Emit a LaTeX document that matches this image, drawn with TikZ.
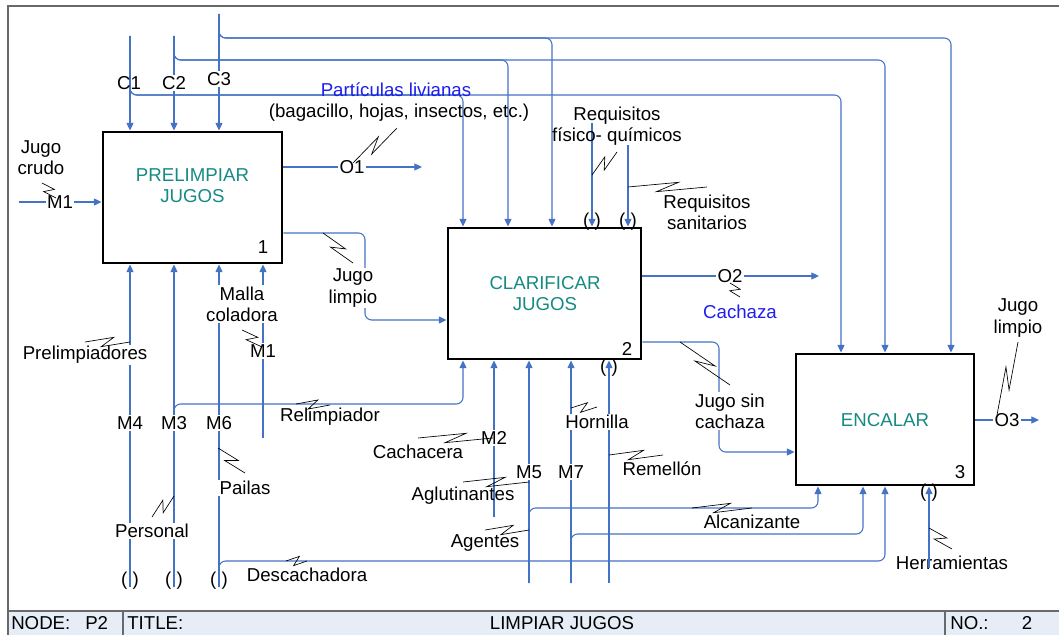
\documentclass[tikz,border=0pt]{standalone}
\usepackage{fontspec}
\setmainfont{Liberation Sans}
\usetikzlibrary{arrows.meta,calc}

\definecolor{flow}{RGB}{68,114,196}
\definecolor{acttext}{RGB}{22,138,132}
\definecolor{notetext}{RGB}{30,30,240}
\definecolor{barfill}{RGB}{230,237,247}
\definecolor{framecol}{RGB}{105,105,105}

\tikzset{
  conn/.style={draw=flow, line width=0.8pt, rounded corners=5pt},
  arr/.style={conn, -{Triangle[length=5.8pt,width=5.3pt]}},
  squig/.style={draw=black, line width=0.5pt},
  actbox/.style={draw=black, line width=2.2pt, fill=white, inner sep=0pt},
  acttitle/.style={text=acttext, align=center, inner sep=0pt},
  lbl/.style={fill=white, inner sep=1pt, align=center},
  lbln/.style={inner sep=1pt, align=center},
  tunnel/.style={inner sep=0pt},
  bartext/.style={inner sep=0pt, anchor=west}
}

% squiggle: short "N" shaped leader between a label and an arrow
\newcommand{\squig}[3]{%
  \coordinate (#1a) at (#2);
  \coordinate (#1b) at (#3);
  \draw[squig] (#1a) -- ($(#1a)!0.64!(#1b)!3.5pt!90:(#1b)$)
     -- ($(#1a)!0.36!(#1b)!3.5pt!-90:(#1b)$) -- (#1b);}

\begin{document}
\begin{tikzpicture}[x=0.75pt, y=-0.75pt, font=\fontsize{14}{16}\selectfont]
\useasboundingbox (0,0) rectangle (1059,635);
\fill[white] (0,0) rectangle (1059,635);

% sheet frame and title bar
\fill[barfill] (8,611) rectangle (1059,635);
\draw[framecol, line width=1pt] (8,635) -- (8,6) -- (1059,6);
\draw[framecol, line width=0.8pt] (8,611) -- (1059,611);
\draw[framecol, line width=0.8pt] (123,611) -- (123,635);
\draw[framecol, line width=0.8pt] (945,611) -- (945,635);
\node[bartext] (nodekey) at (11,623) {NODE:};
\node[bartext] (nodeval) at (85,623) {P2};
\node[bartext] (titlekey) at (127,623) {TITLE:};
\node[inner sep=0pt] (titleval) at (562,623) {LIMPIAR JUGOS};
\node[bartext] (nokey) at (950,623) {NO.:};
\node[inner sep=0pt] (noval) at (1027,623) {2};

% activity boxes
\node[actbox, minimum width=134.25pt, minimum height=98.25pt] (b1) at (192.5,197.5) {};
\node[actbox, minimum width=144.75pt, minimum height=98.25pt] (b2) at (544.5,293.5) {};
\node[actbox, minimum width=133.5pt, minimum height=98.25pt] (b3) at (885,419.5) {};

% controls
\coordinate (c1s) at (130,36);
\coordinate (c2s) at (174,36);
\coordinate (c3s) at (219,14);
\coordinate (k1) at (463,95);  \coordinate (k1b) at (841,95);
\coordinate (k2) at (508,60);  \coordinate (k2b) at (885,60);
\coordinate (k3) at (552,38);  \coordinate (k3b) at (951,38);
\draw[arr] (c1s) -- (c1s |- b1.north);
\draw[arr] (c2s) -- (c2s |- b1.north);
\draw[arr] (c3s) -- (c3s |- b1.north);
\draw[arr] (c1s) |- (k1) -- (k1 |- b2.north);
\draw[arr] (c1s) |- (k1b) -- (k1b |- b3.north);
\draw[arr] (c2s) |- (k2) -- (k2 |- b2.north);
\draw[arr] (c2s) |- (k2b) -- (k2b |- b3.north);
\draw[arr] (c3s) |- (k3) -- (k3 |- b2.north);
\draw[arr] (c3s) |- (k3b) -- (k3b |- b3.north);
\coordinate (rq1) at (592,123);
\coordinate (rq2) at (628,145);
\draw[arr] (rq1) -- (rq1 |- b2.north);
\draw[arr] (rq2) -- (rq2 |- b2.north);

% inputs and outputs
\coordinate (m1in) at (19,202);
\draw[arr] (m1in) -- (m1in -| b1.west);
\coordinate (o1e) at (422,167);
\draw[arr] (b1.east |- o1e) -- (o1e);
\coordinate (jl) at (365,233);
\coordinate (jlb) at (365,320);
\draw[arr] (b1.east |- jl) -- (jl) -- (jlb) -- (jlb -| b2.west);
\coordinate (o2e) at (819,276);
\draw[arr] (b2.east |- o2e) -- (o2e);
\coordinate (js) at (719,342);
\coordinate (jsb) at (719,452);
\draw[arr] (b2.east |- js) -- (js) -- (jsb) -- (jsb -| b3.west);
\coordinate (o3e) at (1039,420);
\draw[arr] (b3.east |- o3e) -- (o3e);

% mechanisms
\coordinate (m4s) at (130,587);
\coordinate (m3s) at (174,587);
\coordinate (m6s) at (219,587);
\coordinate (m1s) at (263,438);
\draw[arr] (m4s) -- (m4s |- b1.south);
\draw[arr] (m3s) -- (m3s |- b1.south);
\draw[arr] (m6s) -- (m6s |- b1.south);
\draw[arr] (m1s) -- (m1s |- b1.south);
\coordinate (rl) at (463,404);
\draw[arr] (m3s) |- (rl) -- (rl |- b2.south);
\coordinate (dc) at (885,561);
\draw[arr] (m6s) |- (dc) -- (dc |- b3.south);
\coordinate (m2s) at (494,517);
\coordinate (m5s) at (529,583);
\coordinate (m7s) at (571,583);
\coordinate (m8s) at (609,583);
\draw[arr] (m2s) -- (m2s |- b2.south);
\draw[arr] (m5s) -- (m5s |- b2.south);
\draw[arr] (m7s) -- (m7s |- b2.south);
\draw[arr] (m8s) -- (m8s |- b2.south);
\coordinate (al) at (818,508);
\draw[arr] (m5s) |- (al) -- (al |- b3.south);
\coordinate (hb) at (863,534);
\draw[arr] (m7s) |- (hb) -- (hb |- b3.south);

% activity titles and numbers
\node[acttitle] (t1) at (192.5,186) {PRELIMPIAR\\JUGOS};
\node[acttitle] (t2) at (545,293.5) {CLARIFICAR\\JUGOS};
\node[acttitle] (t3) at (885,420) {ENCALAR};
\node[inner sep=0pt] (n1) at (263,247) {1};
\node[inner sep=0pt] (n2) at (627,349) {2};
\node[inner sep=0pt] (n3) at (960,472) {3};

% labels
\node[lbln] (ljc) at (41,158) {Jugo\\crudo};
\node[lbl] (lm1) at (60,202) {M1};
\node[lbln] (lc1) at (129,83) {C1};
\node[lbl] (lc2) at (174,83) {C2};
\node[lbl] (lc3) at (219,79) {C3};
\node[lbln, text=notetext] (lpl) at (396,90) {Partículas livianas};
\node[lbln] (lbg) at (399,113) {(bagacillo, hojas, insectos, etc.)};
\node[lbl] (lo1) at (352,167) {O1};
\node[lbl] (ljl1) at (353,288) {Jugo\\limpio};
\node[lbl] (lmc) at (242,304) {Malla\\coladora};
\node[lbl] (lm1b) at (263,351) {M1};
\node[lbl] (lpre) at (85,355) {Prelimpiadores};
\node[lbl] (lm4) at (130,423) {M4};
\node[lbl] (lm3) at (174,423) {M3};
\node[lbl] (lm6) at (219,423) {M6};
\node[lbln] (lrel) at (330,417) {Relimpiador};
\node[lbl] (lpai) at (245,488) {Pailas};
\node[lbl] (lper) at (152,531) {Personal};
\node[tunnel] (tu1) at (130,581) {( )};
\node[tunnel] (tu2) at (174,581) {( )};
\node[tunnel] (tu3) at (219,581) {( )};
\node[lbln] (ldes) at (307,575) {Descachadora};
\node[lbln] (lrfq) at (617,126) {Requisitos\\físico- químicos};
\node[lbln] (lrsa) at (707,212) {Requisitos\\sanitarios};
\node[tunnel] (tu4) at (592,222) {( )};
\node[tunnel] (tu5) at (628,222) {( )};
\node[lbl] (lo2) at (730,276) {O2};
\node[lbln, text=notetext] (lcch) at (740,312) {Cachaza};
\node[tunnel] (tu6) at (609,368) {( )};
\node[lbl] (ljsc) at (730,411) {Jugo sin\\cachaza};
\node[lbl] (lm2) at (494,438) {M2};
\node[lbln] (lcac) at (418,452) {Cachacera};
\node[lbl] (lm5) at (529,472) {M5};
\node[lbl] (lm7) at (571,472) {M7};
\node[lbln] (lagl) at (463,496) {Aglutinantes};
\node[lbln] (lage) at (485,543) {Agentes};
\node[lbl] (lhor) at (597,422) {Hornilla};
\node[lbln] (lrem) at (662,469) {Remellón};
\node[lbln] (lalc) at (752,522) {Alcanizante};
\node[tunnel] (tu7) at (929,493) {( )};
\node[lbl] (lo3) at (1007,420) {O3};
\node[lbln] (ljl3) at (1018,318) {Jugo\\limpio};
\node[lbln] (lher) at (952,563) {Herramientas};

% tool line drawn over its label
\coordinate (hs) at (929,568);
\draw[arr] (hs) -- (hs |- b3.south);

% squiggles
\squig{sq1}{42,183}{56,198}
\squig{sq2}{353,163}{397,128}
\squig{sq3}{323,233}{353,263}
\squig{sq4}{242,330}{262,347}
\squig{sq5}{85,342}{130,342}
\squig{sq6}{152,517}{174,496}
\squig{sq7}{218,448}{245,473}
\squig{sq8}{296,404}{330,405}
\squig{sq9}{286,561}{307,561}
\squig{sq10}{418,438}{493,438}
\squig{sq11}{463,482}{529,482}
\squig{sq12}{485,530}{529,530}
\squig{sq13}{571,408}{597,407}
\squig{sq14}{609,455}{663,455}
\squig{sq15}{617,152}{592,175}
\squig{sq16}{628,187}{707,187}
\squig{sq17}{730,283}{740,297}
\squig{sq18}{680,342}{730,385}
\squig{sq19}{692,508}{752,508}
\squig{sq20}{929,528}{952,549}
\squig{sq21}{1018,342}{997,415}
\end{tikzpicture}
\end{document}
